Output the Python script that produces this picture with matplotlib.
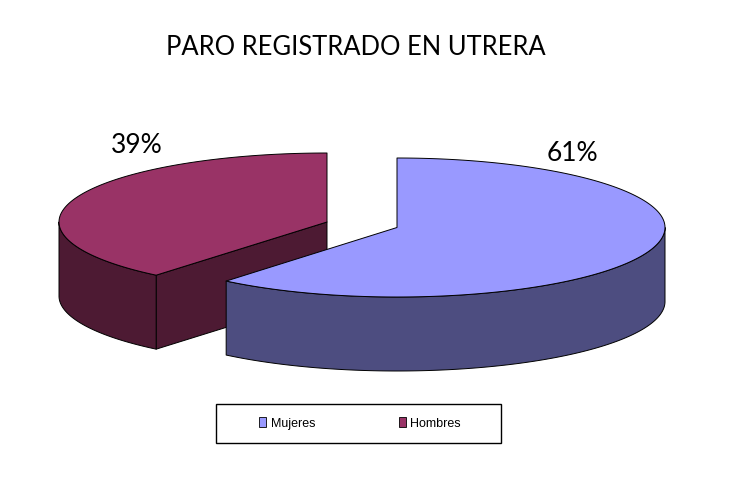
import numpy as np
import matplotlib
matplotlib.use("Agg")
import matplotlib.pyplot as plt
from matplotlib.patches import Polygon, Patch, Rectangle

categories = ["Mujeres", "Hombres"]
shares = [61, 39]
labels = ["61%", "39%"]
title = "PARO REGISTRADO EN UTRERA"
top_colors = ["#9999FF", "#993366"]
side_colors = ["#4D4D80", "#4D1A33"]

A, DEPTH = 268, 74
centers = [(397, 227.5), (327, 222)]
minor_axes = [69.5, 69]

fig = plt.figure(figsize=(7.5, 4.78), dpi=100)
ax = fig.add_axes([0, 0, 1, 1])
ax.set_xlim(0, 750)
ax.set_ylim(478, 0)
ax.axis("off")


def rim(c, b, t0, t1, dy=0):
    t = np.radians(np.linspace(t0, t1, 200))
    return np.column_stack([c[0] + A * np.sin(t), c[1] - b * np.cos(t) + dy])


def draw_wedge(c, b, t0, t1, top, side, z):
    kw = dict(edgecolor="black", linewidth=0.7, joinstyle="round")
    if 90 < t0 < 270:
        wall = np.array([c, rim(c, b, t0, t0)[0], rim(c, b, t0, t0, DEPTH)[0], (c[0], c[1] + DEPTH)])
        ax.add_patch(Polygon(wall, facecolor=side, zorder=z, **kw))
    s0, s1 = max(t0, 90), min(t1, 270)
    if s1 > s0:
        wall = np.vstack([rim(c, b, s0, s1), rim(c, b, s0, s1, DEPTH)[::-1]])
        ax.add_patch(Polygon(wall, facecolor=side, zorder=z, **kw))
    ax.add_patch(Polygon(np.vstack([[c], rim(c, b, t0, t1)]), facecolor=top, zorder=z + 0.5, **kw))


total = sum(shares)
end_m = 360 * shares[0] / total
draw_wedge(centers[1], minor_axes[1], end_m, 360, top_colors[1], side_colors[1], 2)
draw_wedge(centers[0], minor_axes[0], 0, end_m, top_colors[0], side_colors[0], 3)

font = ["Lato", "DejaVu Sans"]
ax.text(355.5, 47.5, title, ha="center", va="center", fontsize=18.4, family=font, color="black")
ax.text(572.5, 153.5, labels[0], ha="center", va="center", fontsize=19, family=font, color="black")
ax.text(136.5, 145.5, labels[1], ha="center", va="center", fontsize=19, family=font, color="black")

ax.add_patch(Rectangle((216, 404), 285, 39, facecolor="white", edgecolor="black", linewidth=1, zorder=4))
handles = [Patch(facecolor=top_colors[i], edgecolor="black", linewidth=0.6) for i in range(2)]
leg = ax.legend(handles, categories, ncol=2, loc="center", bbox_to_anchor=(360, 423.5),
                bbox_transform=ax.transData, frameon=False,
                prop={"family": "Liberation Sans", "size": 9},
                handlelength=0.56, handleheight=0.8, handletextpad=0.34,
                columnspacing=6.7, borderpad=0, borderaxespad=0)
leg.set_zorder(5)

fig.savefig("out.png", dpi=100, facecolor="white")
